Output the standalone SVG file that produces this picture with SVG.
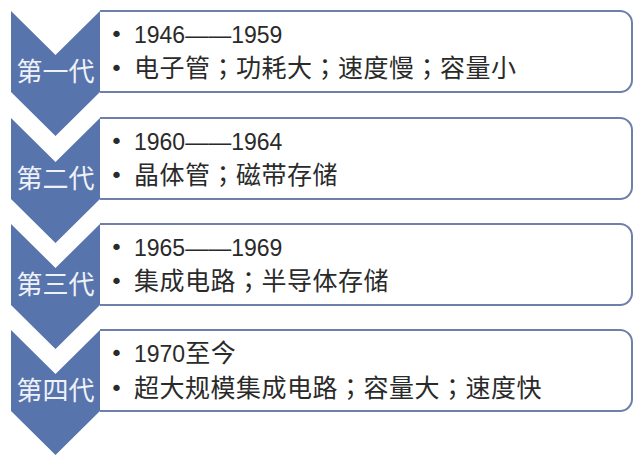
<svg xmlns="http://www.w3.org/2000/svg" width="640" height="465" viewBox="0 0 640 465">
<defs>
<style>
.chev{fill:#5874ac;}
.box{fill:#ffffff;stroke:#6e80aa;stroke-width:2;}
.lbl{font-family:"Noto Sans CJK SC","Noto Sans",sans-serif;font-size:26px;fill:#eef2f8;text-anchor:middle;}
.txt{font-family:"Noto Sans CJK SC","Noto Sans",sans-serif;font-size:25px;fill:#2a2a2a;letter-spacing:0.5px;}
.num{font-family:"Liberation Sans","Noto Sans CJK SC",sans-serif;font-size:23px;fill:#2a2a2a;letter-spacing:0;}
.sc{font-family:"Noto Sans CJK TC",sans-serif;}
.bul{font-family:"DejaVu Sans",sans-serif;font-size:22px;fill:#2a2a2a;}
</style>
</defs>
<rect width="640" height="465" fill="#ffffff"/>
<g id="gen1">
<path class="box" d="M100,11 H620 A12,12 0 0 1 632,23 V80 A12,12 0 0 1 620,92 H100"/>
<path class="chev" d="M11,11 L55.5,55 L100,11 V92 L55.5,136 L11,92 Z"/>
<text class="lbl" x="55.5" y="81">第一代</text>
<text class="bul" x="110" y="42">•</text>
<text class="num" x="134" y="43">1946——1959</text>
<text class="bul" x="110" y="76">•</text>
<text class="txt" x="134" y="77">电子管<tspan class="sc">；</tspan>功耗大<tspan class="sc">；</tspan>速度慢<tspan class="sc">；</tspan>容量小</text>
</g>
<g id="gen2">
<path class="box" d="M100,118 H620 A12,12 0 0 1 632,130 V187 A12,12 0 0 1 620,199 H100"/>
<path class="chev" d="M11,118 L55.5,162 L100,118 V199 L55.5,243 L11,199 Z"/>
<text class="lbl" x="55.5" y="188">第二代</text>
<text class="bul" x="110" y="149">•</text>
<text class="num" x="134" y="150">1960——1964</text>
<text class="bul" x="110" y="183">•</text>
<text class="txt" x="134" y="184">晶体管<tspan class="sc">；</tspan>磁带存储</text>
</g>
<g id="gen3">
<path class="box" d="M100,224 H620 A12,12 0 0 1 632,236 V293 A12,12 0 0 1 620,305 H100"/>
<path class="chev" d="M11,224 L55.5,268 L100,224 V305 L55.5,349 L11,305 Z"/>
<text class="lbl" x="55.5" y="294">第三代</text>
<text class="bul" x="110" y="255">•</text>
<text class="num" x="134" y="256">1965——1969</text>
<text class="bul" x="110" y="289">•</text>
<text class="txt" x="134" y="290">集成电路<tspan class="sc">；</tspan>半导体存储</text>
</g>
<g id="gen4">
<path class="box" d="M100,330 H620 A12,12 0 0 1 632,342 V399 A12,12 0 0 1 620,411 H100"/>
<path class="chev" d="M11,330 L55.5,374 L100,330 V411 L55.5,455 L11,411 Z"/>
<text class="lbl" x="55.5" y="400">第四代</text>
<text class="bul" x="110" y="361">•</text>
<text class="txt" x="134" y="362"><tspan class="num">1970</tspan>至今</text>
<text class="bul" x="110" y="396">•</text>
<text class="txt" x="134" y="397">超大规模集成电路<tspan class="sc">；</tspan>容量大<tspan class="sc">；</tspan>速度快</text>
</g>
<g id="connectors"></g>
</svg>
